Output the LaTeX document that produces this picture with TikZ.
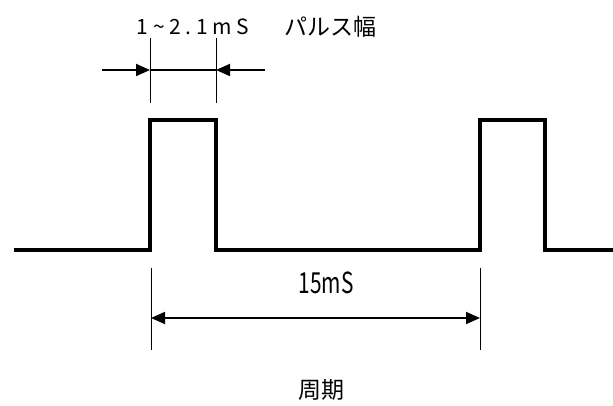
\documentclass[tikz,border=0pt]{standalone}
\usepackage{fontspec}
\setmainfont{Noto Sans CJK JP}
\newfontfamily\spacedfont[LetterSpace=22]{Noto Sans CJK JP}
\usetikzlibrary{arrows.meta}

\tikzset{
  pulse/.style={line width=4.5pt},
  tick/.style={line width=1pt},
  dimline/.style={line width=1.8pt},
  dimarrow/.style={dimline,-{Triangle[length=14pt,width=12pt]}},
  jlabel/.style={font=\fontsize{23}{26}\selectfont}
}

\begin{document}
\begin{tikzpicture}[x=1pt,y=-1pt]
  \useasboundingbox (0,0) rectangle (613,406);
  % pulse train
  \coordinate (start) at (14,250);
  \coordinate (rise1) at (150,120);
  \coordinate (fall1) at (216,250);
  \coordinate (rise2) at (480,120);
  \coordinate (fall2) at (545,250);
  \coordinate (stop) at (613,250);
  \draw[pulse] (start) -| (rise1) -| (fall1) -| (rise2) -| (fall2) -- (stop);
  % pulse width
  \coordinate (wtop1) at (150,38);  \coordinate (wbot1) at (150,103);
  \coordinate (wtop2) at (216,38);  \coordinate (wbot2) at (216,103);
  \draw[tick] (wtop1) -- (wbot1);
  \draw[tick] (wtop2) -- (wbot2);
  \coordinate (wa1) at (150,70);  \coordinate (wa2) at (216,70);
  \coordinate (wfrom1) at (102,70);  \coordinate (wfrom2) at (265,70);
  \draw[dimarrow] (wfrom1) -- (wa1);
  \draw[dimarrow] (wfrom2) -- (wa2);
  \draw[dimline] (wa1) -- (wa2);
  \node[font=\spacedfont\fontsize{21}{24}\selectfont] (width) at (193,27) {1\textasciitilde2.1mS};
  \node[jlabel] (widthname) at (330,27) {パルス幅};
  % period
  \coordinate (ptop1) at (151,268);  \coordinate (pbot1) at (151,350);
  \coordinate (ptop2) at (480,268);  \coordinate (pbot2) at (480,350);
  \draw[tick] (ptop1) -- (pbot1);
  \draw[tick] (ptop2) -- (pbot2);
  \coordinate (pa1) at (151,318);  \coordinate (pa2) at (480,318);
  \draw[dimline,{Triangle[length=14pt,width=12pt]}-{Triangle[length=14pt,width=12pt]}] (pa1) -- (pa2);
  \node[xscale=0.72] (period) at (326,283) {\fontsize{29}{32}\selectfont 15mS};
  \node[jlabel] (periodname) at (321,390) {周期};
\end{tikzpicture}
\end{document}
